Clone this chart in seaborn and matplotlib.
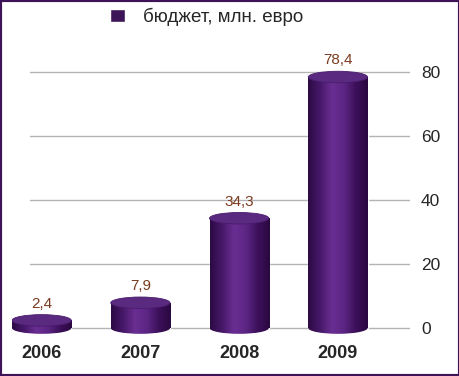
import matplotlib.pyplot as plt
import seaborn as sns
import numpy as np
import pandas as pd
from matplotlib.patches import Ellipse, Rectangle
from matplotlib.colors import LinearSegmentedColormap

# budget per year, mln euro
years = ['2006', '2007', '2008', '2009']
budget = [2.4, 7.9, 34.3, 78.4]
value_labels = ['2,4', '7,9', '34,3', '78,4']
yticks = [0, 20, 40, 60, 80]
legend_label = 'бюджет, млн. евро'

sns.set_style('white')
plt.rcParams['font.family'] = ['Liberation Sans', 'DejaVu Sans']

fig = plt.figure(figsize=(4.6, 3.76), dpi=100)
ax = fig.add_axes([12/460, 38/376, 398/460, 293/376])

df = pd.DataFrame({'year': years, 'budget': budget})
sns.barplot(data=df, x='year', y='budget', color='#3d1458', saturation=1,
            width=0.6, label=legend_label, ax=ax, zorder=2)

# cylinder look: gradient body + elliptic caps
cmap = LinearSegmentedColormap.from_list(
    'cyl', ['#2c0a44', '#461868', '#6a2e92', '#5c2684', '#3c105a', '#2a0840'])
grad = np.linspace(0, 1, 256).reshape(1, -1)
cap_h = 3.6

bars = list(ax.containers[0])
for i, p in enumerate(bars):
    x0 = p.get_x()
    w = p.get_width()
    h = p.get_height()
    cx = x0 + w/2
    base = Ellipse((cx, 0), w, cap_h, facecolor='none', edgecolor='none')
    ax.add_patch(base)
    im1 = ax.imshow(grad, extent=[x0, x0 + w, -cap_h, h], aspect='auto',
                    cmap=cmap, zorder=2.5, interpolation='bilinear')
    im1.set_clip_path(p)
    im2 = ax.imshow(grad, extent=[x0, x0 + w, -cap_h, h], aspect='auto',
                    cmap=cmap, zorder=2.5, interpolation='bilinear')
    im2.set_clip_path(base)
    ax.add_patch(Ellipse((cx, h), w, cap_h, facecolor='#5a2a80',
                         edgecolor='#4a1c6c', lw=0.6, zorder=3))
    ax.text(cx, h + cap_h/2 + 1.2, value_labels[i], ha='center', va='bottom',
            color='#7a3b1f', fontsize=11)

ax.set_xlim(-0.30, 3.73)
ax.set_ylim(-3.1, 88.4)
ax.set_yticks(yticks)
ax.yaxis.tick_right()
for yv in yticks:
    ax.axhline(yv, xmin=0.045, xmax=1, color='#b4b4b4', lw=1, zorder=1)
ax.tick_params(axis='y', length=0, pad=8, labelsize=12.5)
ax.tick_params(axis='x', length=0, pad=5, labelsize=13)
for t in ax.get_xticklabels():
    t.set_fontweight('bold')
ax.set_xlabel('')
ax.set_ylabel('')
sns.despine(ax=ax, left=True, bottom=True, right=True, top=True)

handles, labels = ax.get_legend_handles_labels()
if ax.get_legend() is not None:
    ax.get_legend().remove()
fig.legend(handles[:1], labels[:1], loc='center', bbox_to_anchor=(0.45, 1 - 17/376),
           frameon=False, fontsize=13.5, handlelength=0.75, handleheight=0.75,
           handletextpad=1.0)

fig.add_artist(Rectangle((0, 0), 1, 1, transform=fig.transFigure, fill=False,
                         edgecolor='#3d1458', lw=3))

plt.savefig('out.png', dpi=100)
